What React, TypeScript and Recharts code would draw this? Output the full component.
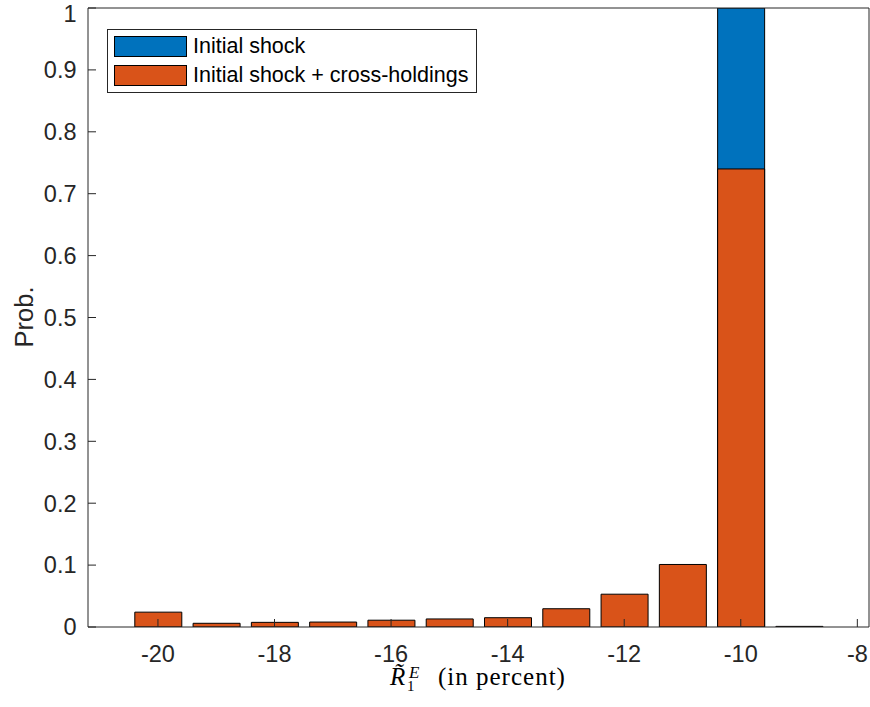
import React from 'react';
import { ComposedChart, Bar, XAxis, YAxis, Legend } from 'recharts';

const bins = [-20, -19, -18, -17, -16, -15, -14, -13, -12, -11, -10, -9];
const initialShock = [0, 0, 0, 0, 0, 0, 0, 0, 0, 0, 1, 0];
const withCrossHoldings = [0.024, 0.006, 0.0075, 0.008, 0.011, 0.013, 0.015, 0.0295, 0.053, 0.101, 0.74, 0.001];
const xTicks = [-20, -18, -16, -14, -12, -10, -8];
const yTicks = [0, 0.1, 0.2, 0.3, 0.4, 0.5, 0.6, 0.7, 0.8, 0.9, 1];
const seriesNames = ['Initial shock', 'Initial shock + cross-holdings'];

const data = bins.map((b, i) => ({ bin: b, initial: initialShock[i], cross: withCrossHoldings[i] }));

const AXIS = '#262626';
const SANS = '"Liberation Sans", Arial, Helvetica, sans-serif';
const SERIF = '"Liberation Serif", "Times New Roman", serif';
const BLUE = '#0072BD';
const ORANGE = '#D95319';
const TICK_FONT = 23.5;

const LegendBox = (props: any) => {
  const payload = props.payload || [];
  return (
    <div
      style={{
        border: `1px solid ${AXIS}`,
        background: '#fff',
        width: 370,
        height: 64,
        boxSizing: 'border-box',
        position: 'relative',
        fontFamily: SANS,
        fontSize: 21.5,
      }}
    >
      {payload.map((p: any, i: number) => (
        <div
          key={i}
          style={{ position: 'absolute', left: 6, top: 6 + i * 29, display: 'flex', alignItems: 'center', height: 21 }}
        >
          <div style={{ width: 73, height: 21, background: p.color, border: '1px solid #000', boxSizing: 'border-box' }} />
          <span style={{ marginLeft: 6, lineHeight: '21px', color: '#000', whiteSpace: 'nowrap' }}>{p.value}</span>
        </div>
      ))}
    </div>
  );
};

const XLabel = (props: any) => {
  const vb = props.viewBox || { x: 0, y: 0, width: 0 };
  const cx = vb.x + vb.width / 2;
  const start = cx - 88.5;
  const base = vb.y + 58;
  return (
    <g>
      <text x={start} y={base} textAnchor="start" fontFamily={SERIF} fontSize={25} fontStyle="italic" fill="#000">
        {'R\u0303'}
      </text>
      <text x={start + 17} y={base + 6} textAnchor="start" fontFamily={SERIF} fontSize={15} fill="#000">
        1
      </text>
      <text x={start + 19} y={base - 7} textAnchor="start" fontFamily={SERIF} fontSize={17} fontStyle="italic" fill="#000">
        E
      </text>
      <text x={start + 48} y={base} textAnchor="start" fontFamily={SERIF} fontSize={25} letterSpacing={1} fill="#000">
        (in percent)
      </text>
    </g>
  );
};

const YLabel = () => (
  <text x={33} y={317} transform="rotate(-90 33 317)" textAnchor="middle" fontFamily={SANS} fontSize={25.5} fill={AXIS}>
    Prob.
  </text>
);

export default function App() {
  return (
    <div style={{ position: 'absolute', left: 0, top: 0, width: 870, height: 707 }}>
      <ComposedChart
        width={870}
        height={707}
        data={data}
        margin={{ top: 0, right: 0, bottom: 20, left: 28 }}
      >
        <Bar
          dataKey="initial"
          name={seriesNames[0]}
          xAxisId="top"
          yAxisId="left"
          fill={BLUE}
          stroke="#000"
          strokeWidth={1}
          barSize={47}
          isAnimationActive={false}
        />
        <Bar
          dataKey="cross"
          name={seriesNames[1]}
          xAxisId="bottom"
          yAxisId="left"
          fill={ORANGE}
          stroke="#000"
          strokeWidth={1}
          barSize={47}
          isAnimationActive={false}
        />
        <XAxis
          xAxisId="bottom"
          dataKey="bin"
          type="number"
          orientation="bottom"
          domain={[-21.2, -7.8]}
          allowDataOverflow
          ticks={xTicks}
          height={60}
          tickSize={-8}
          tickMargin={26}
          stroke={AXIS}
          axisLine={{ stroke: AXIS }}
          tickLine={{ stroke: AXIS }}
          tick={{ fill: AXIS, fontSize: TICK_FONT, fontFamily: SANS }}
          label={{ content: (p: any) => <XLabel {...p} /> }}
        />
        <XAxis
          xAxisId="top"
          dataKey="bin"
          type="number"
          orientation="top"
          domain={[-21.2, -7.8]}
          allowDataOverflow
          ticks={xTicks}
          height={8}
          tickSize={-8}
          tick={false}
          stroke={AXIS}
          axisLine={{ stroke: AXIS }}
          tickLine={{ stroke: AXIS }}
        />
        <YAxis
          yAxisId="left"
          type="number"
          domain={[0, 1]}
          allowDataOverflow
          ticks={yTicks}
          width={60}
          tickSize={-8}
          tickMargin={19.5}
          stroke={AXIS}
          axisLine={{ stroke: AXIS }}
          tickLine={{ stroke: AXIS }}
          tick={{ fill: AXIS, fontSize: TICK_FONT, fontFamily: SANS }}
          label={{ content: () => <YLabel /> }}
        />
        <YAxis
          yAxisId="right"
          orientation="right"
          type="number"
          domain={[0, 1]}
          allowDataOverflow
          ticks={yTicks}
          width={1}
          tickSize={-8}
          tick={false}
          stroke={AXIS}
          axisLine={{ stroke: AXIS }}
          tickLine={{ stroke: AXIS }}
        />
        <Legend
          layout="vertical"
          align="center"
          verticalAlign="middle"
          wrapperStyle={{ position: 'absolute', left: 107, top: 29, width: 'auto', height: 'auto' }}
          content={(p: any) => <LegendBox {...p} />}
        />
      </ComposedChart>
    </div>
  );
}
